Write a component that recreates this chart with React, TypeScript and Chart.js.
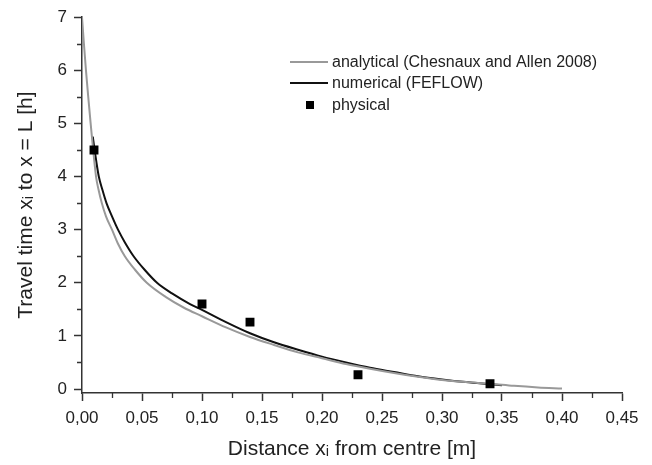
import React, { useEffect, useRef } from 'react';
import { Chart, registerables } from 'chart.js';

Chart.register(...registerables);

// ---- data ----
const xTickValues = [0, 0.05, 0.1, 0.15, 0.2, 0.25, 0.3, 0.35, 0.4, 0.45];
const yTickValues = [0, 1, 2, 3, 4, 5, 6, 7];
const xMinorTicks = [0.025, 0.075, 0.125, 0.175, 0.225, 0.275, 0.325, 0.375, 0.425];
const yMinorTicks = [0.5, 1.5, 2.5, 3.5, 4.5, 5.5, 6.5];

const analyticalX = [0, 0.0016, 0.0033, 0.0052, 0.0072, 0.0093, 0.0117, 0.0138, 0.0165, 0.02, 0.025, 0.0297, 0.0357, 0.044, 0.054, 0.07, 0.085, 0.1, 0.12, 0.14, 0.16, 0.18, 0.2, 0.22, 0.24, 0.26, 0.28, 0.3, 0.32, 0.34, 0.36, 0.38, 0.4];
const analyticalY = [7.0, 6.5, 6.0, 5.5, 5.0, 4.5, 4.0, 3.75, 3.5, 3.25, 3.0, 2.75, 2.5, 2.25, 2.0, 1.73, 1.53, 1.37, 1.16, 0.98, 0.83, 0.69, 0.58, 0.47, 0.38, 0.3, 0.23, 0.17, 0.13, 0.1, 0.06, 0.03, 0.01];

const numericalX = [0.009, 0.0105, 0.012, 0.014, 0.017, 0.0204, 0.025, 0.03, 0.036, 0.043, 0.052, 0.0625, 0.075, 0.09, 0.1, 0.12, 0.14, 0.16, 0.18, 0.2, 0.22, 0.24, 0.26, 0.28, 0.3, 0.32, 0.34, 0.35];
const numericalY = [4.75, 4.5, 4.27, 4.0, 3.75, 3.5, 3.25, 3.0, 2.75, 2.5, 2.25, 2.0, 1.8, 1.6, 1.49, 1.26, 1.05, 0.88, 0.74, 0.61, 0.5, 0.4, 0.32, 0.24, 0.18, 0.13, 0.09, 0.07];

const physicalX = [0.01, 0.1, 0.14, 0.23, 0.34];
const physicalY = [4.5, 1.6, 1.26, 0.27, 0.1];

const seriesLabels = ['analytical (Chesnaux and Allen 2008)', 'numerical (FEFLOW)', 'physical'];

const FONT = 'Arial, "Liberation Sans", Helvetica, sans-serif';
const TEXT = '#222';
const AXIS = '#333';

const toPts = (xs: number[], ys: number[]) => xs.map((x, i) => ({ x, y: ys[i] }));

const minorTicksPlugin = {
  id: 'minorTicks',
  afterDraw(chart: any) {
    const { ctx, scales } = chart;
    const xs = scales.x;
    const ys = scales.y;
    ctx.save();
    ctx.strokeStyle = AXIS;
    ctx.lineWidth = 1.3;
    ctx.beginPath();
    xMinorTicks.forEach((v) => {
      const px = Math.round(xs.getPixelForValue(v)) + 0.5;
      ctx.moveTo(px, xs.top);
      ctx.lineTo(px, xs.top + 5);
    });
    yMinorTicks.forEach((v) => {
      const py = Math.round(ys.getPixelForValue(v)) + 0.5;
      ctx.moveTo(ys.right, py);
      ctx.lineTo(ys.right - 5, py);
    });
    ctx.stroke();
    ctx.restore();
  },
};

const legendPlugin = {
  id: 'customLegend',
  afterDraw(chart: any) {
    const { ctx } = chart;
    const x0 = 290;
    const lineLen = 38;
    const textX = 332;
    const rows = [62, 83, 105];
    ctx.save();
    ctx.font = `16px ${FONT}`;
    ctx.textBaseline = 'middle';
    ctx.textAlign = 'left';
    chart.data.datasets.forEach((ds: any, i: number) => {
      const y = rows[i];
      if (ds.showLine) {
        ctx.strokeStyle = ds.borderColor;
        ctx.lineWidth = 2;
        ctx.beginPath();
        ctx.moveTo(x0, y);
        ctx.lineTo(x0 + lineLen, y);
        ctx.stroke();
      } else {
        ctx.fillStyle = ds.backgroundColor;
        ctx.fillRect(306, y - 4, 8, 8);
      }
      ctx.fillStyle = TEXT;
      ctx.fillText(ds.label, textX, y + 1);
    });
    ctx.restore();
  },
};

export default function App() {
  const ref = useRef<HTMLCanvasElement | null>(null);

  useEffect(() => {
    if (!ref.current) return;
    const chart = new Chart(ref.current, {
      type: 'scatter',
      data: {
        datasets: [
          {
            label: seriesLabels[0],
            data: toPts(analyticalX, analyticalY),
            showLine: true,
            borderColor: '#999999',
            backgroundColor: '#999999',
            borderWidth: 2,
            pointRadius: 0,
            cubicInterpolationMode: 'monotone',
            order: 1,
          },
          {
            label: seriesLabels[1],
            data: toPts(numericalX, numericalY),
            showLine: true,
            borderColor: '#111111',
            backgroundColor: '#111111',
            borderWidth: 2,
            pointRadius: 0,
            cubicInterpolationMode: 'monotone',
            order: 2,
          },
          {
            label: seriesLabels[2],
            data: toPts(physicalX, physicalY),
            showLine: false,
            pointStyle: 'rect',
            pointRadius: 6.3,
            backgroundColor: '#000000',
            borderColor: '#000000',
            borderWidth: 0,
            order: 0,
          },
        ],
      } as any,
      options: {
        responsive: false,
        animation: false,
        layout: { padding: { left: 0, right: 30, top: 17, bottom: 0 } },
        plugins: { legend: { display: false }, tooltip: { enabled: false } },
        scales: {
          x: {
            type: 'linear',
            min: 0,
            max: 0.45,
            afterBuildTicks: (s: any) => {
              s.ticks = xTickValues.map((v) => ({ value: v }));
            },
            afterFit: (s: any) => {
              s.height = 72;
            },
            ticks: {
              autoSkip: false,
              maxRotation: 0,
              padding: 7,
              color: TEXT,
              font: { family: FONT, size: 17 },
              callback: (v: any) => Number(v).toFixed(2).replace('.', ','),
            },
            grid: { drawOnChartArea: false, drawTicks: true, tickLength: 8, tickColor: AXIS, tickWidth: 1.5 },
            border: { display: true, color: AXIS, width: 1.5 },
            title: {
              display: true,
              text: 'Distance x\u1D62 from centre [m]',
              color: TEXT,
              font: { family: FONT, size: 21 },
              padding: { top: 4, bottom: 3 },
            },
          },
          y: {
            type: 'linear',
            min: -0.075,
            max: 7,
            afterBuildTicks: (s: any) => {
              s.ticks = yTickValues.map((v) => ({ value: v }));
            },
            afterFit: (s: any) => {
              s.width = 82;
            },
            ticks: {
              padding: 7,
              color: TEXT,
              font: { family: FONT, size: 17 },
              callback: (v: any) => String(v),
            },
            grid: { drawOnChartArea: false, drawTicks: true, tickLength: 8, tickColor: AXIS, tickWidth: 1.5 },
            border: { display: true, color: AXIS, width: 1.5 },
            title: {
              display: true,
              text: 'Travel time x\u1D62 to x = L [h]',
              color: TEXT,
              font: { family: FONT, size: 21 },
              padding: { top: 14, bottom: 4 },
            },
          },
        },
      } as any,
      plugins: [minorTicksPlugin, legendPlugin],
    });
    return () => chart.destroy();
  }, []);

  return (
    <div style={{ position: 'fixed', left: 0, top: 0, width: 652, height: 465, background: '#fff' }}>
      <canvas ref={ref} width={652} height={465} style={{ display: 'block' }} />
    </div>
  );
}
